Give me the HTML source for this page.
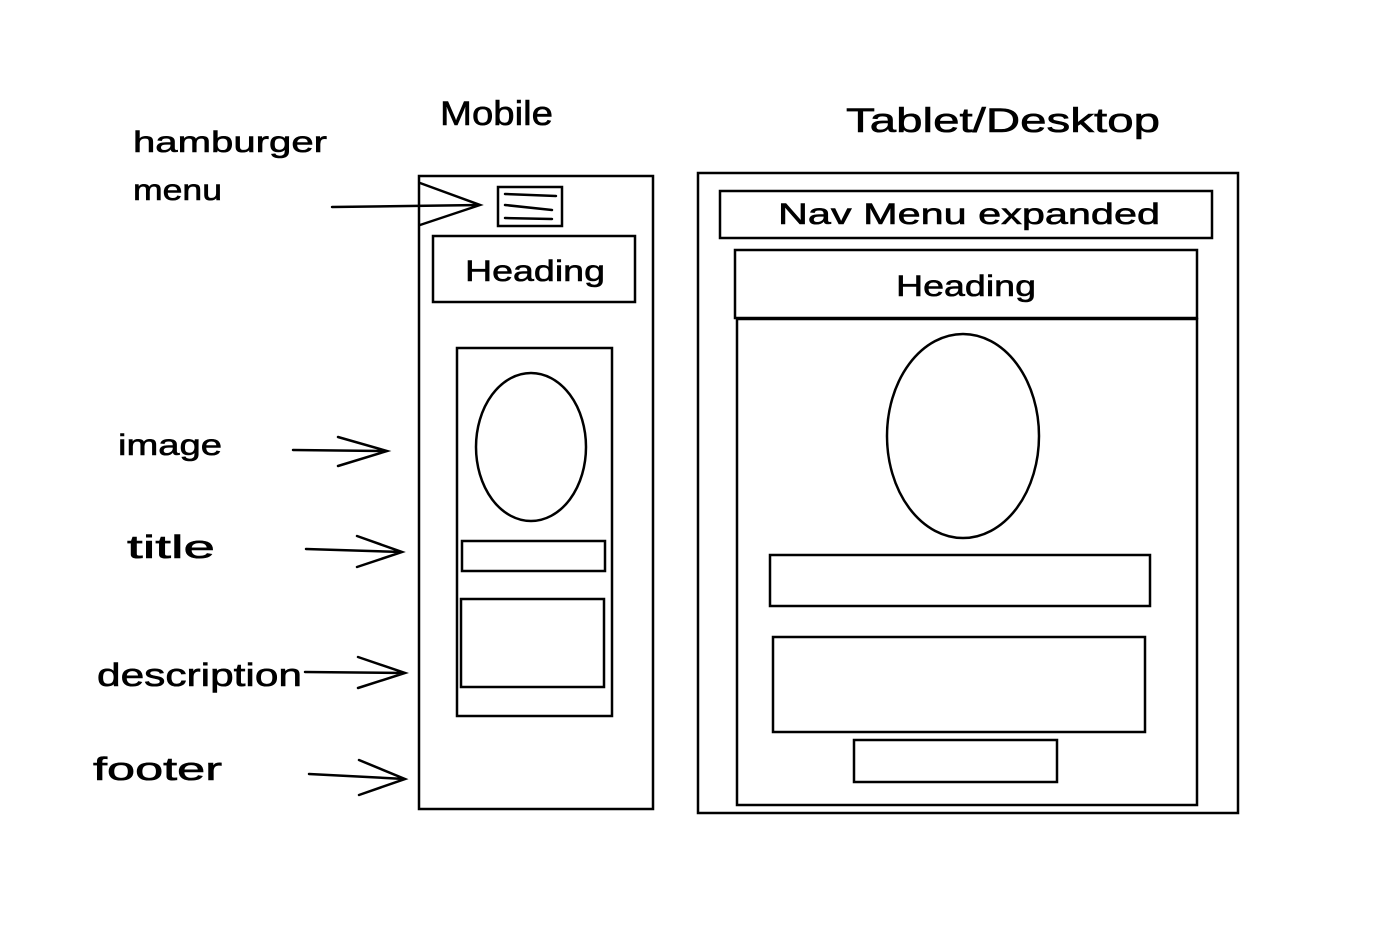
<!DOCTYPE html>
<html><head><meta charset="utf-8"><style>
html,body{margin:0;padding:0;background:#fff;}
svg{display:block}
text{font-family:"Liberation Sans",sans-serif;fill:#000;stroke:#000;stroke-width:0.6;}
</style></head><body>
<svg width="1374" height="948" viewBox="0 0 1374 948" xmlns="http://www.w3.org/2000/svg">
<rect width="1374" height="948" fill="#fff"/>
<g fill="none" stroke="#000" stroke-width="2.5" stroke-linecap="round">
<!-- mobile -->
<rect x="419" y="176" width="234" height="633"/>
<rect x="498" y="187" width="64" height="39"/>
<line x1="505" y1="194" x2="556" y2="196"/>
<line x1="505" y1="205" x2="552" y2="210"/>
<line x1="505" y1="218" x2="552" y2="219"/>
<rect x="433" y="236" width="202" height="66"/>
<rect x="457" y="348" width="155" height="368"/>
<ellipse cx="531" cy="447" rx="55" ry="74"/>
<rect x="462" y="541" width="143" height="30"/>
<rect x="461" y="599" width="143" height="88"/>
<!-- arrows -->
<path d="M332 207 L480 205 M420 183 L480 205 L420 225"/>
<path d="M293 450 L387 451 M338 437 L387 451 L338 466"/>
<path d="M306 549 L402 552 M357 536 L402 552 L357 567"/>
<path d="M305 672 L405 673 M358 657 L405 673 L358 688"/>
<path d="M309 774 L405 779 M359 760 L405 779 L359 795"/>
<!-- desktop -->
<rect x="698" y="173" width="540" height="640"/>
<rect x="720" y="191" width="492" height="47"/>
<rect x="735" y="250" width="462" height="68"/>
<rect x="737" y="319" width="460" height="486"/>
<ellipse cx="963" cy="436" rx="76" ry="102"/>
<rect x="770" y="555" width="380" height="51"/>
<rect x="773" y="637" width="372" height="95"/>
<rect x="854" y="740" width="203" height="42"/>
</g>
<g font-size="34">
<text x="440" y="125" textLength="113" lengthAdjust="spacingAndGlyphs">Mobile</text>
<text x="846" y="132" textLength="314" lengthAdjust="spacingAndGlyphs">Tablet/Desktop</text>
<text x="133" y="152" font-size="30" textLength="194" lengthAdjust="spacingAndGlyphs">hamburger</text>
<text x="133" y="200" font-size="30" textLength="89" lengthAdjust="spacingAndGlyphs">menu</text>
<text x="118" y="455" font-size="30" textLength="104" lengthAdjust="spacingAndGlyphs">image</text>
<text x="127" y="558" font-size="32" textLength="88" lengthAdjust="spacingAndGlyphs">title</text>
<text x="97" y="686" font-size="32" textLength="205" lengthAdjust="spacingAndGlyphs">description</text>
<text x="93" y="780" font-size="32" textLength="129" lengthAdjust="spacingAndGlyphs">footer</text>
<text x="465" y="281" font-size="30" textLength="140" lengthAdjust="spacingAndGlyphs">Heading</text>
<text x="778" y="224" font-size="30" textLength="382" lengthAdjust="spacingAndGlyphs">Nav Menu expanded</text>
<text x="896" y="296" font-size="30" textLength="140" lengthAdjust="spacingAndGlyphs">Heading</text>
</g>
</svg>
</body></html>
